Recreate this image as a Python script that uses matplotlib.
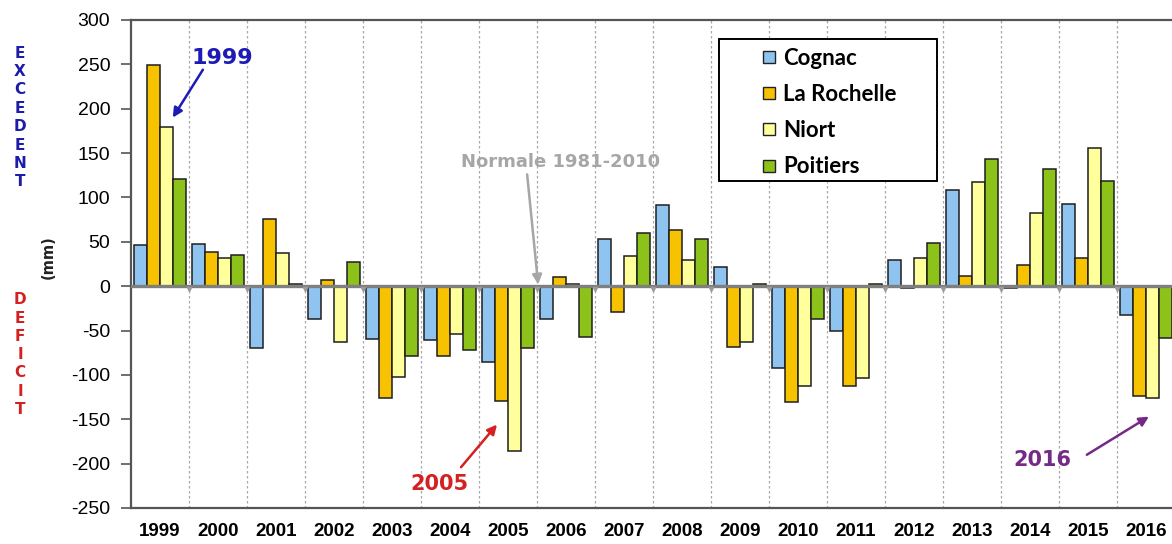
import matplotlib.pyplot as plt
from matplotlib.patches import Rectangle
from matplotlib.lines import Line2D
import numpy as np

plt.rcParams['axes.unicode_minus'] = False

# Precipitation surplus / deficit vs normal 1981-2010 (mm)
years = ['1999', '2000', '2001', '2002', '2003', '2004', '2005', '2006', '2007',
         '2008', '2009', '2010', '2011', '2012', '2013', '2014', '2015', '2016']
cognac = [46, 47, -70, -37, -60, -61, -85, -37, 53, 91, 22, -92, -50, 29, 108, -2, 93, -32]
la_rochelle = [249, 38, 76, 7, -126, -79, -129, 10, -29, 63, -68, -131, -113, -2, 12, 24, 32, -124]
niort = [179, 32, 37, -63, -102, -54, -186, 3, 34, 29, -63, -112, -103, 32, 117, 82, 156, -126]
poitiers = [121, 35, 2, 27, -79, -72, -70, -57, 60, 53, 2, -37, 3, 49, 143, 132, 119, -58]

series = [('Cognac', cognac, '#8fc3f0'),
          ('La Rochelle', la_rochelle, '#f7c200'),
          ('Niort', niort, '#ffff9c'),
          ('Poitiers', poitiers, '#8cc21a')]

W, H = 1172, 544
fig = plt.figure(figsize=(W / 100, H / 100), dpi=100)
ax = fig.add_axes([131 / W, 36 / H, (1172 - 131) / W, 488 / H])

x = np.arange(len(years))
bw = 0.224
for i, (name, vals, col) in enumerate(series):
    ax.bar(x + (i - 1.5) * bw, vals, width=bw, color=col, edgecolor='#1e1e1e',
           linewidth=1.1, zorder=2)

# separators between years
for b in x[:-1] + 0.5:
    ax.axvline(b, color='#a8a8a8', lw=0.9, ls=(0, (2, 2)), zorder=1)
ax.axhline(0, color='#7f7f7f', lw=2.4, zorder=3)
ax.plot(x[:-1] + 0.5, np.zeros(len(x) - 1) - 3, ls='none', marker='v',
        ms=3, color='#9a9a9a', zorder=3)

ax.set_xlim(-0.5, -0.5 + (1172 - 131) / 58)
ax.set_ylim(-250, 300)
ax.set_yticks(range(-250, 301, 50))
ax.tick_params(axis='y', labelsize=14, length=7, width=1.2, color='#555555', pad=8)
ax.set_xticks(x)
ax.set_xticklabels(years, fontsize=13.5, fontweight='bold', family='Liberation Sans')
ax.tick_params(axis='x', length=0, pad=11)
for lab in ax.get_yticklabels():
    lab.set_family('Liberation Sans')
for s in ['left', 'top', 'bottom']:
    ax.spines[s].set_color('#555555')
    ax.spines[s].set_linewidth(1.6)
ax.spines['right'].set_visible(False)

# legend: frameless, with a hand-placed box around it
box = Rectangle((719 / W, 1 - 181 / H), 218 / W, 142 / H, transform=fig.transFigure,
                facecolor='white', edgecolor='black', lw=1.4, zorder=4, clip_on=False)
ax.add_patch(box)
handles = [Line2D([], [], ls='none', marker='s', ms=9, mfc=col, mec='#222222',
                  mew=1.0) for _, _, col in series]
leg = ax.legend(handles, [s[0] for s in series], loc='upper left',
                bbox_to_anchor=((761 - 131) / 1041, (508 - 48) / 488),
                borderaxespad=0, borderpad=0, frameon=False, handlelength=0.7,
                handletextpad=0.3, labelspacing=0.68,
                prop={'family': 'Lato', 'size': 16, 'weight': 'bold'})
leg.set_zorder(6)

# annotations: arrows and labels drawn separately
def arrow(tail, head, col):
    ax.annotate('', xy=head, xytext=tail,
                arrowprops=dict(arrowstyle='-|>', color=col, lw=1.8, shrinkA=0,
                                shrinkB=0, mutation_scale=14))

ax.text(1.07, 257, '1999', ha='center', va='center', color='#1c1cb4',
        fontsize=16, fontweight='bold')
arrow((0.74, 244), (0.22, 190), '#1c1cb4')
ax.text(6.91, 140, 'Normale 1981-2010', ha='center', va='center', color='#a6a6a6',
        fontsize=13, fontweight='bold')
arrow((6.33, 126), (6.52, 2), '#a6a6a6')
ax.text(4.81, -223, '2005', ha='center', va='center', color='#d42020',
        fontsize=15, fontweight='bold')
arrow((5.19, -204), (5.81, -156), '#d42020')
ax.text(15.22, -196, '2016', ha='center', va='center', color='#742a86',
        fontsize=15, fontweight='bold')
arrow((15.98, -190), (17.05, -147), '#742a86')

# left side vertical words
for k, ch in enumerate('EXCEDENT'):
    fig.text(20 / W, 1 - (53 + k * 18.4) / H, ch, ha='center', va='center',
             color='#1c1ca8', fontsize=11, fontweight='bold')
for k, ch in enumerate('DEFICIT'):
    fig.text(20 / W, 1 - (300 + k * 18.2) / H, ch, ha='center', va='center',
             color='#d42020', fontsize=11, fontweight='bold')
fig.text(48 / W, 1 - 257 / H, '(mm)', rotation=90, ha='center', va='center',
         fontsize=10.5, fontweight='bold', color='#222222')

fig.savefig('out.png', dpi=100)
